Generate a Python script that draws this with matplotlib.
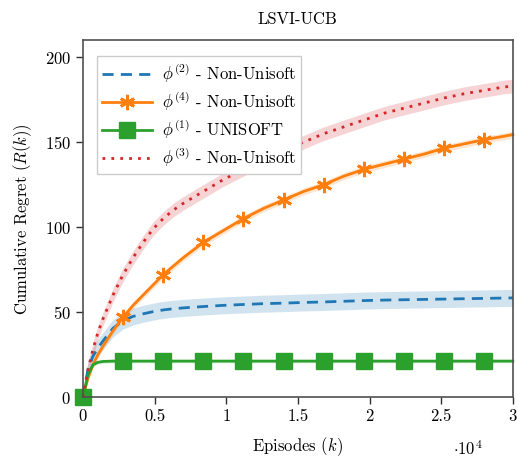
import numpy as np
import matplotlib
matplotlib.use("Agg")
import matplotlib.pyplot as plt
from matplotlib.ticker import FuncFormatter

# エピソード（x軸）
episodes = [0, 350, 700, 1050, 1400, 2100, 2800, 3500, 4200, 4900, 5600,
            6300, 7000, 8400, 9800, 11200, 12600, 14000, 15400, 16800, 18200,
            19600, 21000, 22400, 23800, 25200, 26600, 28000, 29400, 30000]

# 各手法の累積リグレット
regret_phi2 = [0, 16, 24, 29, 33, 40.5, 45, 47.5, 49, 50.3, 51.3, 52, 52.5,
               53.3, 54, 54.5, 55, 55.3, 55.7, 56, 56.4, 56.8, 57.1, 57.3,
               57.5, 57.7, 57.9, 58.1, 58.3, 58.4]
regret_phi4 = [0, 11, 19, 25, 30, 39, 47, 54, 60, 66, 72, 77, 82, 91, 98, 105,
               111, 116, 121, 125, 130, 134, 137, 140, 143, 146.5, 149, 151.5,
               153.5, 154.5]
regret_phi1 = [0, 13, 19, 20.5, 21, 21.2, 21.2, 21.2, 21.2, 21.2, 21.2, 21.2,
               21.2, 21.2, 21.2, 21.2, 21.2, 21.2, 21.2, 21.2, 21.2, 21.2,
               21.2, 21.2, 21.2, 21.2, 21.2, 21.2, 21.2, 21.2]
regret_phi3 = [0, 16, 28, 38, 46, 60, 72, 82, 91, 99, 105, 110, 114, 121, 128,
               134, 140, 145, 150, 155, 159, 163, 167, 170, 173, 176, 178.5,
               180.5, 182.5, 183]

# 信頼区間の幅（片側）
band_phi2 = 5.0
band_phi4 = 2.0
band_phi1 = 1.0
band_phi3 = 4.0

labels = [r"$\phi^{(2)}$ - Non-Unisoft", r"$\phi^{(4)}$ - Non-Unisoft",
          r"$\phi^{(1)}$ - UNISOFT", r"$\phi^{(3)}$ - Non-Unisoft"]

plt.rcParams['font.family'] = 'serif'
plt.rcParams['font.serif'] = ['cmr10', 'DejaVu Serif']
plt.rcParams['mathtext.fontset'] = 'cm'
plt.rcParams['axes.unicode_minus'] = False
plt.rcParams['axes.formatter.use_mathtext'] = True

fig = plt.figure(figsize=(5.18, 4.57), dpi=100)
ax = fig.add_axes([0.160, 0.131, 0.830, 0.781])

x = np.array(episodes)
mark_idx = [0, 6, 10, 13, 15, 17, 19, 21, 23, 25, 27]

series = [
    (regret_phi2, band_phi2, '#1f77b4', dict(linestyle=(0, (4, 2.6)))),
    (regret_phi4, band_phi4, '#ff7f0e', dict(marker=(6, 2, 0), markersize=11,
                                               markeredgewidth=2.0, markevery=mark_idx)),
    (regret_phi1, band_phi1, '#2ca02c', dict(marker='s', markersize=11.5,
                                               markeredgecolor='#2ca02c',
                                               markevery=mark_idx)),
    (regret_phi3, band_phi3, '#d62728', dict(linestyle=(0, (1, 2.2)))),
]

for (vals, band, col, style), lab in zip(series, labels):
    y = np.array(vals)
    ax.fill_between(x, y - band, y + band, color=col, alpha=0.2, lw=0)
    ax.plot(x, y, color=col, lw=2, label=lab, clip_on=False, **style)

ax.set_xlim(0, 30000)
ax.set_ylim(0, 210)
ax.set_xticks([0, 5000, 10000, 15000, 20000, 25000, 30000])
ax.set_yticks([0, 50, 100, 150, 200])
ax.xaxis.set_major_formatter(FuncFormatter(lambda v, p: f"{v / 1e4:g}"))

for s in ax.spines.values():
    s.set_color('#505050')
    s.set_linewidth(1.2)
ax.tick_params(direction='out', length=5, width=1, colors='#303030',
               labelsize=12, labelcolor='black')

ax.set_title("LSVI-UCB", fontsize=12, pad=12)
ax.set_xlabel(r"Episodes $(k)$", fontsize=12, labelpad=8)
ax.set_ylabel(r"Cumulative Regret $(R(k))$", fontsize=12, labelpad=8)
fig.text(0.875, 0.005, r"$\cdot 10^4$", fontsize=12)

leg = ax.legend(loc='upper left', bbox_to_anchor=(0.013, 0.978), fontsize=12,
                fancybox=False, edgecolor='#cccccc', framealpha=1,
                handlelength=3.0, borderpad=0.3, labelspacing=0.3,
                handletextpad=0.6)
leg.get_frame().set_linewidth(1.0)

fig.savefig("out.png", dpi=100)
